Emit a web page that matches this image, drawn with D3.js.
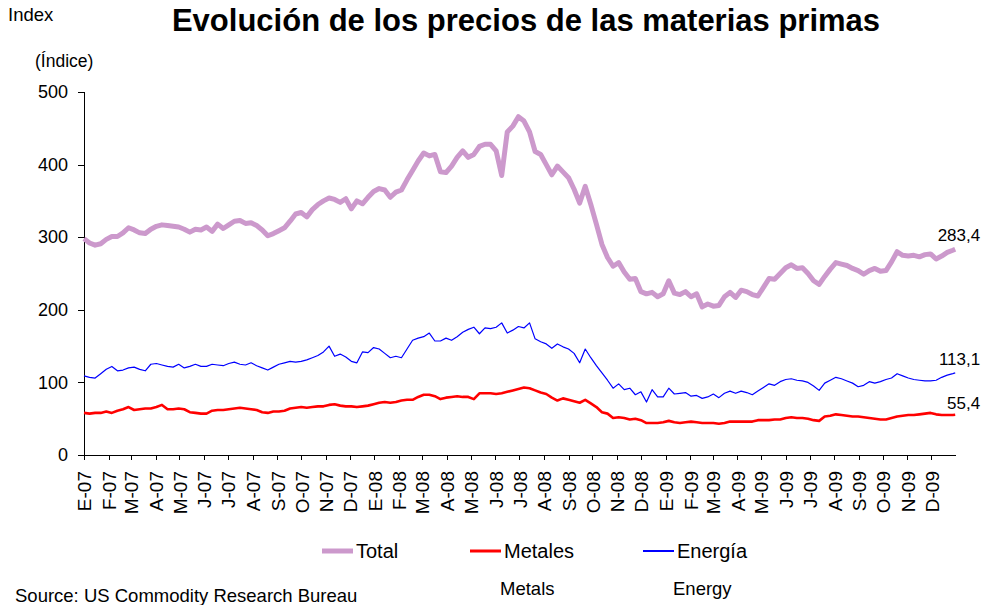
<!DOCTYPE html>
<html>
<head>
<meta charset="utf-8">
<script src="https://cdn.jsdelivr.net/npm/d3@7/dist/d3.min.js"></script>
<style>
  html, body { margin: 0; padding: 0; background: #fff; }
  svg { display: block; font-family: "Liberation Sans", Arial, sans-serif; }
  .axis path, .axis line { stroke: #000; shape-rendering: crispEdges; }
  .axis text { fill: #000; }
</style>
</head>
<body>
<svg id="chart" width="983" height="605"></svg>
<script>
// Weekly readings, first week starts 2007-01-01; last value is 2009-12-31
const FIRST_WEEK = "2007-01-01";
const LAST_DAY = "2009-12-31";

const totalValues = [
  298, 292, 289, 291, 297, 301, 301, 306, 313, 310, 306, 305, 311, 315, 317, 316,
  315, 314, 311, 307, 311, 310, 314, 308, 318, 312, 317, 322, 323, 319, 320, 316,
  310, 302, 305, 309, 313, 322, 332, 334, 328, 338, 345, 350, 354, 352, 348, 353,
  339, 350, 346, 355, 363, 367, 365, 355, 362, 365, 379, 392, 405, 416, 412, 414,
  390, 389, 398, 410, 419, 410, 414, 425, 428, 428, 419, 385, 445, 453, 466, 460,
  445, 418, 414, 400, 386, 398, 390, 382, 366, 347, 370, 345, 318, 290, 272, 260,
  265, 252, 242, 243, 225, 222, 224, 218, 222, 240, 223, 221, 225, 218, 222, 204,
  208, 205, 206, 218, 224, 217, 227, 225, 221, 219, 231, 243, 242, 250, 258, 262,
  257, 258, 250, 240, 235, 246, 256, 265, 263, 261, 257, 254, 249, 254, 257, 253,
  254, 266, 280, 275, 274, 275, 273, 276, 277, 270, 274, 279, 282, 283.4
];

const metalValues = [
  58, 57, 58, 58, 60, 58, 61, 63, 66, 62, 63, 64, 64, 66, 69, 63,
  63, 64, 63, 59, 58, 57, 57, 61, 62, 62, 63, 64, 65, 64, 63, 62,
  59, 58, 60, 60, 61, 64, 65, 66, 65, 66, 67, 67, 69, 70, 68, 67,
  67, 66, 67, 68, 70, 72, 73, 72, 73, 75, 76, 76, 80, 83, 83, 81,
  77, 79, 80, 81, 80, 80, 77, 85, 85, 85, 84, 85, 87, 89, 91, 93,
  92, 89, 86, 84, 79, 75, 78, 76, 74, 72, 76, 71, 66, 59, 57, 51,
  52, 51, 49, 50, 48, 44, 44, 44, 45, 47, 45, 44, 45, 46, 45, 44,
  44, 44, 43, 44, 46, 46, 46, 46, 46, 48, 48, 48, 49, 49, 51, 52,
  51, 51, 50, 48, 47, 53, 54, 56, 55, 54, 53, 53, 52, 51, 50, 49,
  49, 51, 53, 54, 55, 55, 56, 57, 58, 56, 55, 55, 55, 55.4
];

const energyValues = [
  109, 107, 106, 112, 118, 122, 116, 117, 120, 121, 118, 116, 125, 126, 124, 122,
  121, 125, 120, 122, 125, 122, 122, 125, 124, 123, 126, 128, 125, 124, 127, 123,
  120, 117, 121, 125, 127, 129, 128, 129, 131, 134, 137, 142, 150, 136, 139, 135,
  129, 127, 142, 141, 148, 146, 140, 134, 136, 134, 146, 158, 161, 163, 168, 157,
  157, 161, 158, 163, 169, 173, 176, 167, 175, 174, 176, 182, 168, 172, 177, 175,
  182, 160, 156, 153, 147, 153, 149, 146, 140, 127, 146, 134, 123, 113, 103, 92,
  98, 90, 92, 83, 87, 73, 90, 80, 80, 92, 84, 85, 86, 81, 82, 78,
  80, 84, 79, 85, 88, 85, 88, 86, 83, 88, 93, 98, 96, 101, 104, 105,
  103, 102, 100, 95, 89, 99, 103, 107, 105, 102, 99, 94, 96, 101, 99, 101,
  104, 106, 112, 109, 106, 104, 103, 102, 102, 103, 107, 110, 112, 113.1
];

const monthLabels = [
  "E-07", "F-07", "M-07", "A-07", "M-07", "J-07", "J-07", "A-07", "S-07", "O-07", "N-07", "D-07",
  "E-08", "F-08", "M-08", "A-08", "M-08", "J-08", "J-08", "A-08", "S-08", "O-08", "N-08", "D-08",
  "E-09", "F-09", "M-09", "A-09", "M-09", "J-09", "J-09", "A-09", "S-09", "O-09", "N-09", "D-09"
];

const seriesNames = ["Total", "Metales", "Energía"];
const seriesSubNames = ["", "Metals", "Energy"];
const endLabels = ["283,4", "55,4", "113,1"];
const yTicks = [0, 100, 200, 300, 400, 500];

// Dates for the weekly grid
const parse = d3.timeParse("%Y-%m-%d");
const start = parse(FIRST_WEEK);
const dates = totalValues.map((_, i) =>
  i === totalValues.length - 1 ? parse(LAST_DAY) : d3.timeDay.offset(start, i * 7));

const STYLE = [
  { color: "#cc99cc", width: 5 },
  { color: "#ff0000", width: 2.6 },
  { color: "#0000ff", width: 1.2 }
];

const svg = d3.select("#chart");
const margin = { top: 92, right: 27, bottom: 150, left: 84 };
const width = 983, height = 605;

const x = d3.scaleTime()
  .domain([start, parse("2010-01-01")])
  .range([margin.left, width - margin.right]);

const y = d3.scaleLinear()
  .domain([0, 500])
  .range([height - margin.bottom, margin.top]);

// Title and notes
svg.append("text")
  .attr("x", 526).attr("y", 31)
  .attr("text-anchor", "middle")
  .style("font-size", "31px").style("font-weight", "bold")
  .text("Evolución de los precios de las materias primas");

svg.append("text").attr("x", 8).attr("y", 21)
  .style("font-size", "18.5px").text("Index");

svg.append("text").attr("x", 35).attr("y", 67)
  .style("font-size", "17.5px").text("(Índice)");

// Axes
const yAxis = svg.append("g")
  .attr("class", "axis")
  .attr("transform", `translate(${margin.left},0)`)
  .call(d3.axisLeft(y).tickValues(yTicks).tickSize(6).tickPadding(10).tickFormat(d3.format("d")));
yAxis.selectAll("text").style("font-size", "18px");
yAxis.select(".domain").attr("d", `M-6,${y(500)}H0V${y(0)}`);

const monthTicks = d3.timeMonth.range(start, parse("2010-01-01"));
const xAxis = svg.append("g")
  .attr("class", "axis")
  .attr("transform", `translate(0,${y(0)})`)
  .call(d3.axisBottom(x).tickValues(monthTicks).tickSize(5).tickFormat((d, i) => monthLabels[i]));
xAxis.select(".domain").attr("d", `M${margin.left},0H${width - margin.right}`);
xAxis.selectAll(".tick line").attr("stroke", "#555");
xAxis.selectAll("text")
  .style("font-size", "19px")
  .attr("text-anchor", "end")
  .attr("transform", "rotate(-90)")
  .attr("x", -16).attr("y", 0).attr("dy", "0.36em");

// Lines
const allSeries = [totalValues, metalValues, energyValues];
const line = d3.line()
  .x((d, i) => x(dates[i]))
  .y(d => y(d));

allSeries.forEach((vals, k) => {
  svg.append("path")
    .datum(vals)
    .attr("fill", "none")
    .attr("stroke", STYLE[k].color)
    .attr("stroke-width", STYLE[k].width)
    .attr("stroke-linejoin", "round")
    .attr("d", line);
});

// End-value labels
const labelOffsets = [-8, -6, -8];
allSeries.forEach((vals, k) => {
  const last = vals[vals.length - 1];
  svg.append("text")
    .attr("x", x(dates[dates.length - 1]) + 25)
    .attr("y", y(last) + labelOffsets[k])
    .attr("text-anchor", "end")
    .style("font-size", "17px")
    .text(endLabels[k]);
});

// Legend
const legendX = [322, 470, 643];
seriesNames.forEach((name, k) => {
  const g = svg.append("g").attr("transform", `translate(${legendX[k]},551)`);
  g.append("line")
    .attr("x1", 0).attr("x2", 31)
    .attr("stroke", STYLE[k].color)
    .attr("stroke-width", k === 0 ? 5 : (k === 1 ? 3 : 2));
  g.append("text")
    .attr("x", 34).attr("dy", "0.36em")
    .style("font-size", "20px")
    .text(name);
  if (seriesSubNames[k]) {
    g.append("text")
      .attr("x", 30).attr("y", 37).attr("dy", "0.36em")
      .style("font-size", "18.5px")
      .text(seriesSubNames[k]);
  }
});

svg.append("text").attr("x", 15).attr("y", 602)
  .style("font-size", "18.5px")
  .text("Source: US Commodity Research Bureau");
</script>
</body>
</html>
